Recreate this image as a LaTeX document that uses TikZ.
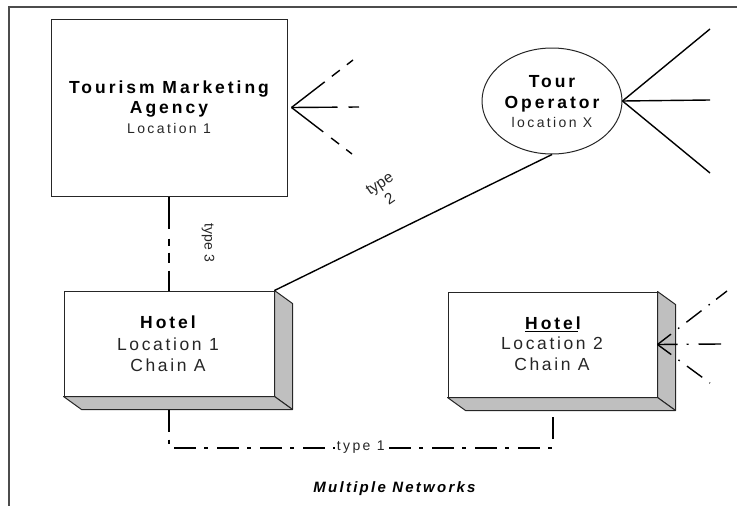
\documentclass[tikz,border=0pt]{standalone}
\usepackage{fontspec}
\setmainfont{Liberation Sans}
\newfontfamily\spA[LetterSpace=17]{Liberation Sans}
\newfontfamily\spB[LetterSpace=15]{Liberation Sans}
\newfontfamily\spC[LetterSpace=10]{Liberation Sans}
\usetikzlibrary{shapes.geometric,calc}
\begin{document}
\begin{tikzpicture}[x=1pt,y=-1pt,
  frameline/.style={draw=black!70, line width=1.2pt},
  boxline/.style={draw=black!85, line width=1pt},
  hotelbox/.style={boxline, fill=white, minimum width=210pt, minimum height=105pt, inner sep=0pt},
  face/.style={draw=black!85, line width=1pt, fill=black!25, line join=round},
  link/.style={line width=1.4pt, black},
  heavy/.style={line width=2pt, black},
  txt/.style={anchor=base, inner sep=0pt, text=black!85},
  boldtxt/.style={txt, text=black, font=\fontsize{17.5}{20}\spA\bfseries},
  smalltxt/.style={txt, font=\fontsize{14}{17}\spA},
  hoteltxt/.style={txt, font=\fontsize{17.5}{20}\spB}
]
\useasboundingbox (0,0) rectangle (737,506);
\draw[frameline] (9,506) -- (9,7) -- (737,7);

% shapes
\node[boxline, minimum width=236pt, minimum height=177pt, inner sep=0pt] (tma) at (169,107.5) {};
\node[ellipse, boxline, minimum width=140pt, minimum height=106pt, inner sep=0pt] (top) at (552,101) {};
\node[hotelbox] (h1) at (169,343.5) {};
\node[hotelbox, minimum width=209pt] (h2) at (552.5,344.5) {};
\foreach \h in {h1,h2}{
  \draw[face] (\h.north east) -- ++(18,13) -- ($(\h.south east)+(18,13)$) -- (\h.south east) -- cycle;
  \draw[face] (\h.south west) -- ++(18,13) -- ($(\h.south east)+(18,13)$) -- (\h.south east) -- cycle;
}

% texts
\node[boldtxt] (tma1) at (169,93) {Tourism Marketing};
\node[boldtxt] (tma2) at (169,113) {Agency};
\node[smalltxt] (tma3) at (169,133) {Location 1};

\node[boldtxt] (top1) at (552,87) {Tour};
\node[boldtxt] (top2) at (552,108.5) {Operator};
\node[smalltxt] (top3) at (552,127) {location X};

\node[boldtxt] (h1a) at (168,328) {Hotel};
\node[hoteltxt] (h1b) at (168,350) {Location 1};
\node[hoteltxt] (h1c) at (168,371) {Chain A};

\node[boldtxt] (h2a) at (553,329) {Hotel};
\draw[line width=1.6pt] ([yshift=-2.5pt]h2a.base west) -- ([yshift=-2.5pt,xshift=-3pt]h2a.base east);
\node[hoteltxt] (h2b) at (552,349) {Location 2};
\node[hoteltxt] (h2c) at (552,370) {Chain A};

\node[txt, text=black, font=\fontsize{15}{18}\spB\bfseries\itshape] (title) at (394.5,492) {Multiple Networks};

% fan from agency
\coordinate (tmafan) at ([xshift=4pt]tma.east);
\coordinate (tmaE1) at (353,60);
\coordinate (tmaE2) at (359,107);
\coordinate (tmaE3) at (352,154);
\draw[link, dash pattern=on 42pt off 9pt on 10pt off 9pt on 8pt off 20pt] (tmafan) -- (tmaE1);
\draw[link, dash pattern=on 46pt off 11pt on 11pt off 20pt] (tmafan) -- (tmaE2);
\draw[link, dash pattern=on 40pt off 10pt on 10pt off 9pt on 8pt off 20pt] (tmafan) -- (tmaE3);

% fan from tour operator
\coordinate (topE1) at (710,29);
\coordinate (topE2) at (710,100);
\coordinate (topE3) at (710,173);
\draw[link] (top.east) -- (topE1);
\draw[link] (top.east) -- (topE2);
\draw[link] (top.east) -- (topE3);

% fan into hotel 2
\coordinate (h2fan) at (h2.east);
\coordinate (h2E1) at (727,291);
\coordinate (h2E2) at (721,344);
\coordinate (h2E3) at (710,383);
\draw[link, dash pattern=on 17pt off 9pt on 1.5pt off 9pt on 19pt off 9pt on 1.5pt off 8pt on 16pt off 20pt] (h2fan) -- (h2E1);
\draw[link, dash pattern=on 20pt off 9pt on 2pt off 10pt on 24pt off 20pt] (h2fan) -- (h2E2);
\draw[link, dash pattern=on 17pt off 9pt on 1.5pt off 9pt on 19pt off 9pt on 2pt off 20pt] (h2fan) -- (h2E3);

% type 2
\draw[link] (top.south) -- (h1.north east);
\node[txt, anchor=center, align=center, rotate=34, font=\fontsize{15.5}{18}\selectfont] (lab2) at (384.5,191) {type\\2};

% type 3
\draw[heavy, dash pattern=on 32pt off 10pt on 7pt off 7pt on 10pt off 8pt on 30pt off 5pt] (tma.south) -- (h1.north);
\node[txt, anchor=center, rotate=-90, font=\fontsize{14}{16}\selectfont] (lab3) at (208,243) {type 3};

% type 1
\coordinate (h1low) at ([yshift=-13pt]h1.south);
\coordinate (h2low) at ([yshift=-13pt]h2.south);
\draw[heavy, dash pattern=on 22pt off 8pt on 4pt off 9pt] (h1low) -- ++(0,38) -| node[pos=0.25, fill=white, inner sep=1.5pt, text=black!85, font=\fontsize{14}{17}\spA] (lab1) {type 1} (h2low);
\end{tikzpicture}
\end{document}
